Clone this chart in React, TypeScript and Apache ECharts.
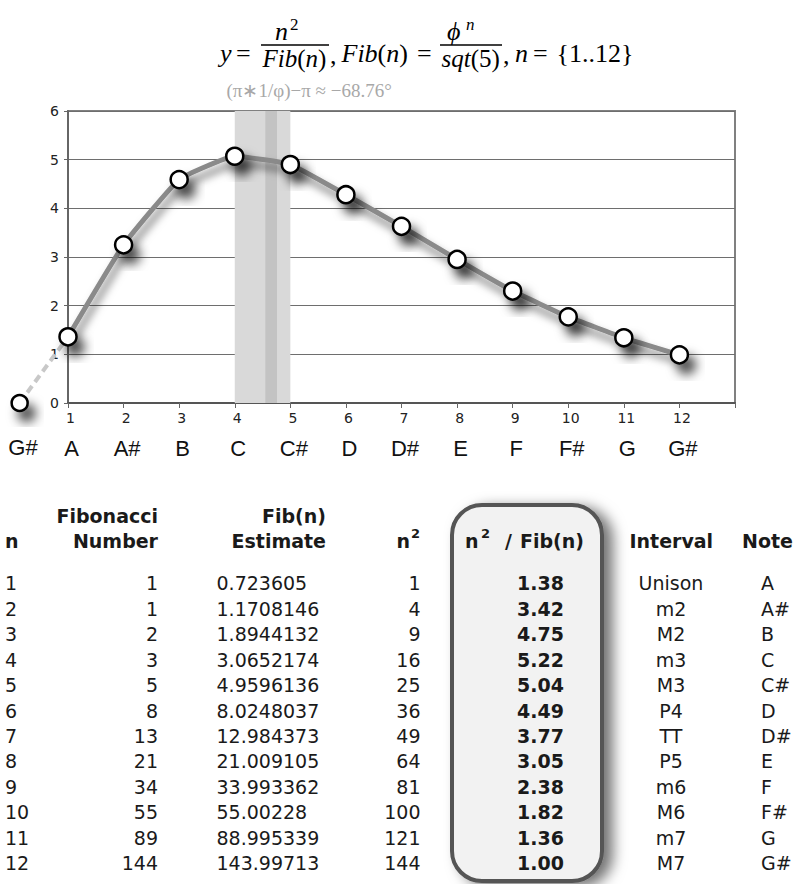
import React, { useEffect, useRef } from "react";
import * as echarts from "echarts";

// ---- chart data ----
const nValues = [1, 2, 3, 4, 5, 6, 7, 8, 9, 10, 11, 12];
const chartRatios = [1.36, 3.25, 4.59, 5.07, 4.9, 4.28, 3.63, 2.95, 2.3, 1.77, 1.34, 0.99];
const noteNames = ["A", "A#", "B", "C", "C#", "D", "D#", "E", "F", "F#", "G", "G#"];
const leadInPoint = [0.13, 0];
const leadInNote = "G#";
const bandRange = [4, 5];
const innerBandRange = [4.55, 4.76];
const bandLabel = "(π∗1/φ)−π ≈ −68.76°";

// ---- table data ----
const fibNumbers = [1, 1, 2, 3, 5, 8, 13, 21, 34, 55, 89, 144];
const fibEstimates = ["0.723605", "1.1708146", "1.8944132", "3.0652174", "4.9596136", "8.0248037", "12.984373", "21.009105", "33.993362", "55.00228", "88.995339", "143.99713"];
const nSquared = [1, 4, 9, 16, 25, 36, 49, 64, 81, 100, 121, 144];
const tableRatios = ["1.38", "3.42", "4.75", "5.22", "5.04", "4.49", "3.77", "3.05", "2.38", "1.82", "1.36", "1.00"];
const intervals = ["Unison", "m2", "M2", "m3", "M3", "P4", "TT", "P5", "m6", "M6", "m7", "M7"];

const SANS = "'DejaVu Sans', Verdana, sans-serif";
const SERIF = "'Liberation Serif', 'Times New Roman', serif";
const ARIAL = "'Liberation Sans', Arial, sans-serif";

function T(text: string, x: number, y: number, o: any = {}) {
  return {
    type: "text",
    x,
    y,
    z: o.z ?? 10,
    silent: true,
    style: {
      text,
      fill: o.color ?? "#1a1a1a",
      font: `${o.italic ? "italic " : ""}${o.bold ? "bold " : ""}${o.size ?? 19}px ${o.family ?? SANS}`,
      align: o.align ?? "left",
      verticalAlign: "middle",
      rich: o.rich,
    },
  };
}

export default function App() {
  const ref = useRef<HTMLDivElement>(null);
  useEffect(() => {
    document.body.style.margin = "0";
    const chart = echarts.init(ref.current!, null, { renderer: "svg" });

    const shadow = {
      shadowColor: "rgba(0,0,0,0.7)",
      shadowBlur: 11,
      shadowOffsetX: 7,
      shadowOffsetY: 10,
    };
    const sym = {
      color: "#ffffff",
      borderColor: "#000000",
      borderWidth: 2.5,
      ...shadow,
    };

    const serifRich = (size: number) => ({
      i: { fontFamily: SERIF, fontStyle: "italic", fontSize: size, color: "#000" },
      r: { fontFamily: SERIF, fontSize: size, color: "#000" },
    });

    const title: any[] = [
      T("y", 220, 53, { family: SERIF, italic: true, size: 26, color: "#000" }),
      T("=", 236, 53, { family: SERIF, size: 26, color: "#000" }),
      T("n", 275, 31.5, { family: SERIF, italic: true, size: 26, color: "#000" }),
      T("2", 290, 24.5, { family: SERIF, size: 17, color: "#000" }),
      { type: "line", silent: true, shape: { x1: 261, y1: 45, x2: 329, y2: 45 }, style: { stroke: "#000", lineWidth: 1.3 } },
      T("{i|Fib}{r|(}{i|n}{r|)}", 262.5, 58, { family: SERIF, size: 25, color: "#000", rich: serifRich(25) }),
      T(",", 330, 55, { family: SERIF, size: 26, color: "#000" }),
      T("{i|Fib}{r|(}{i|n}{r|)}", 341.5, 53, { family: SERIF, size: 26, color: "#000", rich: serifRich(26) }),
      T("=", 417, 53, { family: SERIF, size: 26, color: "#000" }),
      T("ϕ", 447, 31.5, { family: SERIF, italic: true, size: 26, color: "#000" }),
      T("n", 466, 24.5, { family: SERIF, italic: true, size: 17, color: "#000" }),
      { type: "line", silent: true, shape: { x1: 440, y1: 45, x2: 502, y2: 45 }, style: { stroke: "#000", lineWidth: 1.3 } },
      T("{i|sqt}{r|(5)}", 441.5, 58, { family: SERIF, size: 25, color: "#000", rich: serifRich(25) }),
      T(",", 503, 55, { family: SERIF, size: 26, color: "#000" }),
      T("n", 515, 53, { family: SERIF, italic: true, size: 26, color: "#000" }),
      T("=", 533, 53, { family: SERIF, size: 26, color: "#000" }),
      T("{1..12}", 556.5, 53, { family: SERIF, size: 26, color: "#000" }),
      T(bandLabel, 226.5, 90, { family: SERIF, size: 19, color: "#a8a8a8" }),
      T(leadInNote, 23, 447.7, { family: ARIAL, size: 22, color: "#111", align: "center" }),
    ];

    // table
    const table: any[] = [
      {
        type: "rect",
        z: 1,
        silent: true,
        shape: { x: 452, y: 505, width: 150, height: 376, r: 30 },
        style: {
          fill: "#f2f2f2",
          stroke: "#555",
          lineWidth: 4,
          shadowBlur: 14,
          shadowOffsetX: 9,
          shadowOffsetY: 4,
          shadowColor: "rgba(0,0,0,0.55)",
        },
      },
      T("n", 5, 541, { bold: true }),
      T("Fibonacci", 158, 515.5, { bold: true, align: "right" }),
      T("Number", 158, 541, { bold: true, align: "right" }),
      T("Fib(n)", 326, 515.5, { bold: true, align: "right" }),
      T("Estimate", 326, 541, { bold: true, align: "right" }),
      T("n", 410, 541, { bold: true, align: "right" }),
      T("2", 420, 533, { bold: true, align: "right", size: 13 }),
      T("n", 465, 541, { bold: true }),
      T("2", 481, 533, { bold: true, size: 13 }),
      T("/", 505, 541, { bold: true }),
      T("Fib(n)", 520, 541, { bold: true }),
      T("Interval", 671.3, 541, { bold: true, align: "center" }),
      T("Note", 742, 541, { bold: true }),
    ];
    const rowY0 = 583.3;
    const rowStep = 25.45;
    nValues.forEach((n, i) => {
      const y = rowY0 + i * rowStep;
      table.push(T(String(n), 5, y));
      table.push(T(String(fibNumbers[i]), 158, y, { align: "right" }));
      table.push(T(fibEstimates[i], 216.5, y));
      table.push(T(String(nSquared[i]), 420.5, y, { align: "right" }));
      table.push(T(tableRatios[i], 564, y, { align: "right", bold: true }));
      table.push(T(intervals[i], 671, y, { align: "center" }));
      table.push(T(noteNames[i], 761, y));
    });

    chart.setOption({
      animation: false,
      grid: {
        left: 68,
        right: 60,
        top: 111,
        bottom: 481,
        show: true,
        borderColor: "#808080",
        borderWidth: 2,
      },
      xAxis: {
        type: "value",
        min: 1,
        max: 13,
        interval: 1,
        axisLine: { show: true, lineStyle: { color: "#555", width: 2 } },
        axisTick: { show: true, length: 5, lineStyle: { color: "#666" } },
        splitLine: { show: false },
        axisLabel: {
          margin: 6,
          formatter: (v: number) => {
            const i = nValues.indexOf(v);
            if (i < 0) return "";
            return `{n|${v}}\n{note|${noteNames[i]}}`;
          },
          rich: {
            n: { fontFamily: SANS, fontSize: 14, color: "#222", lineHeight: 18, padding: [0, 0, 0, 5] },
            note: { fontFamily: ARIAL, fontSize: 22, color: "#111", lineHeight: 42, padding: [0, 0, 0, 7] },
          },
        },
      },
      yAxis: {
        type: "value",
        min: 0,
        max: 6,
        interval: 1,
        axisLine: { show: true, lineStyle: { color: "#666", width: 2 } },
        axisTick: { show: true, length: 4, lineStyle: { color: "#666" } },
        splitLine: { show: true, lineStyle: { color: "#6e6e6e", width: 1 } },
        axisLabel: { fontFamily: SANS, fontSize: 14, color: "#222", margin: 9 },
      },
      series: [
        {
          type: "custom",
          z: 3,
          clip: false,
          silent: true,
          encode: { x: [0, 2], y: [1, 3] },
          data: [[leadInPoint[0], leadInPoint[1], nValues[0], chartRatios[0]]],
          renderItem: (params: any, api: any) => {
            const p0 = api.coord([api.value(0), api.value(1)]);
            const p1 = api.coord([api.value(2), api.value(3)]);
            return {
              type: "group",
              children: [
                {
                  type: "line",
                  shape: { x1: p0[0], y1: p0[1], x2: p1[0], y2: p1[1] },
                  style: { stroke: "#c8c8c8", lineWidth: 4, lineDash: [8, 5], fill: null },
                },
                {
                  type: "circle",
                  shape: { cx: p0[0], cy: p0[1], r: 8 },
                  style: { fill: "#fff", stroke: "#000", lineWidth: 2.5, ...shadow },
                },
              ],
            };
          },
        },
        {
          type: "line",
          z: 5,
          data: nValues.map((n, i) => [n, chartRatios[i]]),
          smooth: 0.12,
          symbol: "circle",
          symbolSize: 17,
          lineStyle: {
            color: "#8a8a8a",
            width: 5,
            shadowColor: "rgba(0,0,0,0.55)",
            shadowBlur: 8,
            shadowOffsetX: 3,
            shadowOffsetY: 7,
          },
          itemStyle: sym,
          markArea: {
            silent: true,
            itemStyle: { color: "#d9d9d9" },
            data: [
              [{ xAxis: bandRange[0] }, { xAxis: bandRange[1] }],
              [{ xAxis: innerBandRange[0], itemStyle: { color: "#c3c3c3" } }, { xAxis: innerBandRange[1] }],
            ],
          },
        },
      ],
      graphic: [...title, ...table],
    });
    return () => chart.dispose();
  }, []);
  return <div ref={ref} style={{ position: "absolute", left: 0, top: 0, width: 795, height: 884, background: "#fff" }} />;
}
